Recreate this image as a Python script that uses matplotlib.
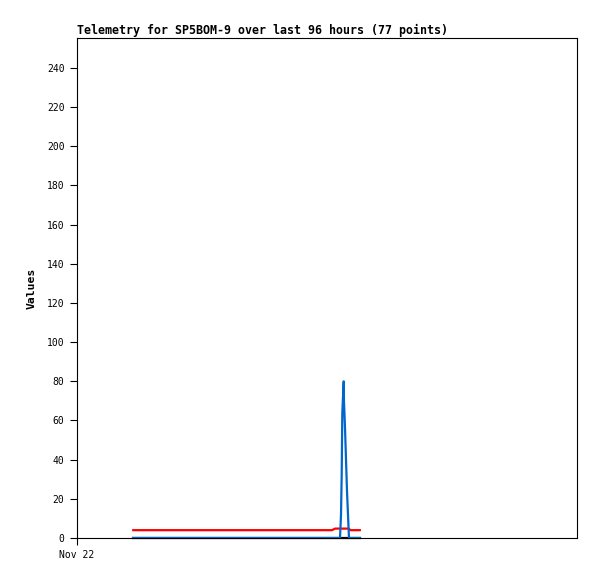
import matplotlib
matplotlib.use("Agg")
import matplotlib.pyplot as plt

# hours since Nov 22 00:00
hours = [10.8, 14.0, 18.0, 22.0, 26.0, 30.0, 34.0, 38.0, 42.0, 46.0,
         48.96, 49.54, 50.5, 50.69, 50.82, 50.94, 51.21, 51.26, 51.46,
         51.65, 51.84, 52.22, 52.46, 54.3]
red_vals = [4, 4, 4, 4, 4, 4, 4, 4, 4, 4,
            4, 4.8, 4.8, 4.8, 4.8, 4.8, 4.8, 4.8, 4.8,
            4.8, 4.8, 4.8, 4, 4]
blue_vals = [0, 0, 0, 0, 0, 0, 0, 0, 0, 0,
             0, 0, 0, 12, 32, 64, 80, 70, 56,
             40, 24, 0, 0, 0]
black_vals = [0] * len(hours)

yticks = list(range(0, 241, 20))
xtick_pos = [0]
xtick_labels = ["Nov 22"]

fig = plt.figure(figsize=(5.97, 5.79), dpi=100)
ax = fig.add_axes([77/597, 1-538/579, 500/597, 500/579])

ax.plot(hours, black_vals, color="black", lw=1.6, clip_on=False, zorder=2)
ax.plot(hours, red_vals, color="#ff0000", lw=1.6, zorder=3)
ax.plot(hours, blue_vals, color="#0066cc", lw=1.6, zorder=4)

ax.set_xlim(0, 96)
ax.set_ylim(0, 255.3)
ax.set_yticks(yticks)
ax.set_yticklabels([str(v) for v in yticks], family="DejaVu Sans Mono", fontsize=7)
ax.set_xticks(xtick_pos)
ax.set_xticklabels(xtick_labels, family="DejaVu Sans Mono", fontsize=7)
ax.tick_params(axis="both", direction="out", length=5, width=0.8, pad=4,
               top=False, right=False)
for s in ax.spines.values():
    s.set_linewidth(0.8)
    s.set_color("black")

ax.set_title("Telemetry for SP5BOM-9 over last 96 hours (77 points)",
             loc="left", family="DejaVu Sans Mono", fontweight="bold",
             fontsize=8.35, pad=3)
ax.set_ylabel("Values", family="DejaVu Sans Mono", fontweight="bold",
              fontsize=8.2, labelpad=7)

fig.savefig("out.png", dpi=100)
